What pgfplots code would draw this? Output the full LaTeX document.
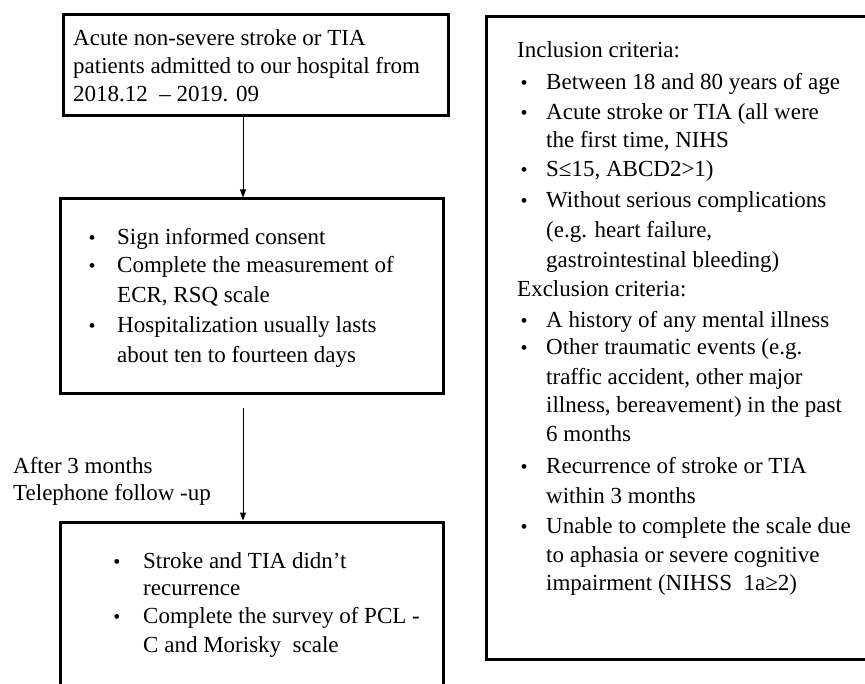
\documentclass[border=0pt]{standalone}
\usepackage{fontspec}
\setmainfont{Liberation Serif}
\usepackage{pgfplots}
\pgfplotsset{compat=1.18}
\usetikzlibrary{arrows.meta}
\tikzset{
  txt/.style={inner sep=0pt, anchor=base west, font=\fontsize{23}{28}\selectfont},
  bul/.style={inner sep=0pt, anchor=base, font=\fontsize{20}{28}\selectfont},
}
\begin{document}
\begin{tikzpicture}
\begin{axis}[
  width=865pt, height=684pt, scale only axis,
  xmin=0, xmax=865, ymin=0, ymax=684, y dir=reverse,
  hide axis, clip=true,
]
% boxes
\addplot[black, line width=3pt, line join=miter] coordinates {(63,15) (448,15) (448,116) (63,116) (63,15) (448,15)};
\addplot[black, line width=3pt, line join=miter] coordinates {(60,199) (443,199) (443,394) (60,394) (60,199) (443,199)};
\addplot[black, line width=3pt, line join=miter] coordinates {(60,700) (60,522) (443,522) (443,700)};
\addplot[black, line width=3pt, line join=miter] coordinates {(486,17) (880,17) (880,659) (486,659) (486,17) (880,17)};
% arrows
\addplot[black, line width=1pt, -{Triangle[length=8pt,width=6pt]}] coordinates {(243,117.5) (243,197.5)};
\addplot[black, line width=1pt, -{Triangle[length=8pt,width=6pt]}] coordinates {(243,408) (243,520.5)};
% box 1
\node[txt] at (axis cs:73,45.7) {Acute non-severe stroke or TIA};
\node[txt] at (axis cs:73,74) {patients admitted to our hospital from};
\node[txt] at (axis cs:73,101.7) {2018.12 \ – 2019. 09};
% box 2
\node[bul] at (axis cs:92,245) {•};
\node[txt] at (axis cs:117,245) {Sign informed consent};
\node[bul] at (axis cs:92,273) {•};
\node[txt] at (axis cs:117,273) {Complete the measurement of};
\node[txt] at (axis cs:117,303) {ECR, RSQ scale};
\node[bul] at (axis cs:92,333) {•};
\node[txt] at (axis cs:117,333) {Hospitalization usually lasts};
\node[txt] at (axis cs:117,363) {about ten to fourteen days};
% left label
\node[txt] at (axis cs:13,473) {After 3 months};
\node[txt] at (axis cs:13,500) {Telephone follow -up};
% box 3
\node[bul] at (axis cs:117,568) {•};
\node[txt] at (axis cs:143,568) {Stroke and TIA didn’t};
\node[txt] at (axis cs:143,595) {recurrence};
\node[bul] at (axis cs:117,623) {•};
\node[txt] at (axis cs:143,623) {Complete the survey of PCL -};
\node[txt] at (axis cs:143,652) {C and Morisky \ scale};
% right box
\node[txt] at (axis cs:517,58) {Inclusion criteria:};
\node[bul] at (axis cs:524,90) {•};
\node[txt] at (axis cs:546,90) {Between 18 and 80 years of age};
\node[bul] at (axis cs:524,120) {•};
\node[txt] at (axis cs:546,120) {Acute stroke or TIA (all were};
\node[txt] at (axis cs:546,148) {the first time, NIHS};
\node[bul] at (axis cs:524,177) {•};
\node[txt] at (axis cs:546,177) {S≤15, ABCD2>1)};
\node[bul] at (axis cs:524,208) {•};
\node[txt] at (axis cs:546,208) {Without serious complications};
\node[txt] at (axis cs:546,238) {(e.g. heart failure,};
\node[txt] at (axis cs:546,268) {gastrointestinal bleeding)};
\node[txt] at (axis cs:517,297) {Exclusion criteria:};
\node[bul] at (axis cs:524,328) {•};
\node[txt] at (axis cs:546,328) {A history of any mental illness};
\node[bul] at (axis cs:524,355) {•};
\node[txt] at (axis cs:546,355) {Other traumatic events (e.g.};
\node[txt] at (axis cs:546,385) {traffic accident, other major};
\node[txt] at (axis cs:546,413) {illness, bereavement) in the past};
\node[txt] at (axis cs:546,442) {6 months};
\node[bul] at (axis cs:524,473) {•};
\node[txt] at (axis cs:546,473) {Recurrence of stroke or TIA};
\node[txt] at (axis cs:546,503) {within 3 months};
\node[bul] at (axis cs:524,533) {•};
\node[txt] at (axis cs:546,533) {Unable to complete the scale due};
\node[txt] at (axis cs:546,562) {to aphasia or severe cognitive};
\node[txt] at (axis cs:546,590) {impairment (NIHSS \ 1a≥2)};
\end{axis}
\pgfresetboundingbox
\path[use as bounding box] (current axis.south west) rectangle (current axis.north east);
\end{tikzpicture}
\end{document}
